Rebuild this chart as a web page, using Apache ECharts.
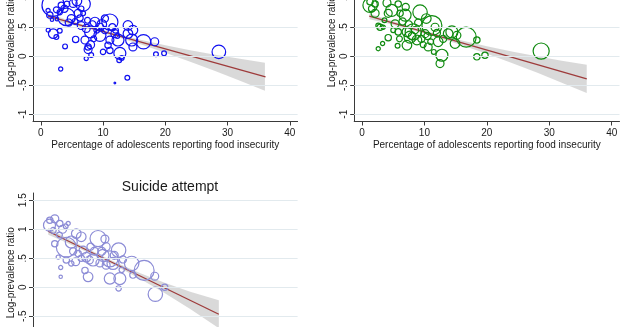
<!DOCTYPE html>
<html><head><meta charset="utf-8">
<script src="https://cdn.jsdelivr.net/npm/echarts@6/dist/echarts.min.js"></script>
<style>html,body{margin:0;padding:0;background:#fff}#c{width:624px;height:327px}</style>
</head><body><div id="c"></div>
<script>
// ---- shared axis text ----
const xTicks = [0, 10, 20, 30, 40];
const yTicks = [-1, -0.5, 0, 0.5, 1, 1.5];
const xTitle = 'Percentage of adolescents reporting food insecurity';
const yTitle = 'Log-prevalence ratio';
const panelCTitle = 'Suicide attempt';

// ---- panel A (top-left, blue) ----
const aX = [1.98,6.8,5.2,3.3,1.17,1.45,3.05,4.1,4.9,6.0,6.3,6.8,1.2,2.0,2.5,3.05,1.8,3.9,5.6,6.5,7.3,7.1,7.6,7.6,7.3,8.1,8.0,8.7,8.0,9.5,9.5,10.0,10.8,11.1,11.1,11.1,11.9,12.4,12.7,12.6,11.9,13.0,14.0,14.0,14.6,14.8,14.8,13.9,16.5,18.3,18.5,19.8,28.6,3.2,4.5,5.5,7.5,8.3,9.8,10.3,11.5,12.0,2.5,3.8,8.5,9.0,12.3,2.6,4.2,5.8,6.5,10.3];
const aY = [0.88,0.90,0.91,0.88,0.79,0.71,0.76,0.68,0.65,0.74,0.66,0.74,0.45,0.39,0.33,0.44,0.63,0.17,0.29,0.53,0.48,0.28,0.16,0.115,-0.04,0.02,0.20,0.59,0.42,0.36,0.50,0.075,0.19,0.59,0.28,0.10,0.39,0.28,0.05,-0.07,-0.46,-0.03,0.53,0.39,0.28,0.45,0.16,-0.37,0.25,0.25,0.035,0.05,0.075,-0.22,0.58,0.60,0.62,0.55,0.55,0.45,0.50,0.45,0.80,0.82,0.30,0.45,0.35,0.64,0.90,0.95,0.82,0.65];
const aW = [86,36,11,7,3,7,5,53,11,11,7,4,3,16,4,4,2,4,7,11,11,11,7,11,3,4,11,16,25,25,11,5,7,45,11,7,11,25,25,4,0.5,4,16,16,25,16,11,4,36,11,4,4,32,3,9,6,6,9,16,9,9,6,6,9,6,6,4,2,6,16,5,9];
const aFitX = [1.17, 36.1];
const aFitY = [0.69, -0.357];
const aCiX  = [1.2, 4, 8, 12, 16, 20, 24, 28, 32, 36];
const aCiHi = [0.739, 0.64, 0.51, 0.39, 0.285, 0.191, 0.105, 0.026, -0.044, -0.114];
const aCiLo = [0.639, 0.57, 0.46, 0.34, 0.205, 0.061, -0.095, -0.254, -0.424, -0.594];

// ---- panel B (top-right, green) ----
const bX = [1.28,1.55,1.3,2.1,2.6,2.9,3.4,2.6,3.3,4.2,4.2,4.76,5.3,5.8,5.7,6.9,6.1,7.2,7.2,7.7,8.2,9.3,8.8,10.1,11.2,11.7,10.6,11.5,12.2,12.8,12.5,13.8,14.4,14.9,15.2,16.7,18.4,18.4,19.7,28.7,2.1,4.0,5.8,7.5,8.0,8.5,9.5,10.5,9.0,6.5,6.0,11.0,3.6,7.0,13.0,9.8,12.0,10.3,5.0];
const bY = [0.94,0.82,0.88,0.74,0.53,0.50,0.50,0.13,0.22,0.32,0.74,0.79,0.56,0.42,0.18,0.71,0.74,0.42,0.19,0.33,0.42,0.76,0.28,0.39,0.53,0.50,0.16,0.075,0.25,0.017,-0.126,0.39,0.42,0.22,0.36,0.33,0.28,-0.01,0.017,0.09,0.90,0.92,0.90,0.55,0.35,0.45,0.30,0.35,0.58,0.60,0.30,0.25,0.62,0.85,0.30,0.20,0.40,0.65,0.45];
const bW = [7,7,36,11,4,7,3,3,3,7,11,25,11,7,4,25,7,16,16,25,45,36,16,11,69,11,11,4,16,25,11,16,25,16,11,69,7,7,7,45,7,11,7,9,9,9,9,9,9,9,6,6,4,9,9,6,9,16,4];
const bFitX = [1.17, 36.0];
const bFitY = [0.69, -0.39];
const bCiX  = [1.2, 4, 8, 12, 16, 20, 24, 28, 32, 36];
const bCiHi = [0.739, 0.637, 0.503, 0.379, 0.27, 0.171, 0.082, -0.002, -0.076, -0.145];
const bCiLo = [0.639, 0.567, 0.453, 0.329, 0.19, 0.041, -0.118, -0.282, -0.456, -0.635];

// ---- panel C (bottom-left, lavender) ----
const cX = [1.4,2.25,1.45,3.05,3.5,4.0,4.4,2.25,4.1,2.8,3.2,3.2,4.1,4.9,5.6,4.9,5.7,6.5,6.8,7.3,7.1,7.6,8.4,9.2,10.3,10.5,10.0,11.1,11.6,12.5,11.1,12.7,12.5,13.0,14.6,14.8,16.6,18.3,19.9,18.4,7.8,6.5,6.0,8.6,9.5,10.5,11.8,9.8,2.0,3.0,5.2,8.0,13.2];
const cY = [1.07,1.18,1.155,1.10,1.0,1.05,1.10,0.75,0.69,0.52,0.34,0.18,0.47,0.41,0.44,0.78,0.925,0.87,0.64,0.52,0.29,0.18,0.47,0.84,0.83,0.70,0.55,0.49,0.41,0.64,0.15,0.15,-0.02,0.30,0.41,0.21,0.29,0.19,0.0,-0.12,0.47,0.50,0.58,0.62,0.42,0.38,0.55,0.62,0.98,0.90,0.62,0.70,0.48];
const cW = [25,11,7,7,11,4,3,7,69,3,3,2,7,5,11,25,16,16,11,16,7,16,25,45,11,11,25,45,25,36,22,25,5,5,36,7,69,11,7,36,11,7,7,11,11,11,11,11,6,6,9,9,9];
const cFitX = [1.17, 28.6];
const cFitY = [0.966, -0.466];
const cCiX  = [1.2, 4, 8, 12, 16, 20, 24, 28.6];
const cCiHi = [1.024, 0.858, 0.639, 0.431, 0.242, 0.073, -0.076, -0.226];
const cCiLo = [0.904, 0.778, 0.579, 0.371, 0.142, -0.107, -0.376, -0.706];

// ---- build chart ----
const FONT = '"Liberation Sans", Arial, Helvetica, sans-serif';
const TXT = '#1a1a1a';
const GRIDC = '#e2eaee';
const fmtY = v => String(v).replace('0.', '.');

function grid(left, top, width, height) {
  return { left, top, width, height, containLabel: false, outerBoundsMode: 'none' };
}
function xAxis(i) {
  return {
    type: 'value', gridIndex: i, min: -1.25, max: 41.25,
    name: xTitle, nameLocation: 'middle', nameGap: 19,
    nameTextStyle: { fontSize: 10, color: TXT, fontFamily: FONT },
    axisLine: { show: true, onZero: false, lineStyle: { color: '#3a3a3a', width: 1 } },
    axisTick: { show: true, length: 4, customValues: xTicks, lineStyle: { color: '#3a3a3a' } },
    axisLabel: { customValues: xTicks, fontSize: 10, color: TXT, margin: 7, fontFamily: FONT },
    splitLine: { show: false }
  };
}
function yAxis(i) {
  return {
    type: 'value', gridIndex: i, min: -1.125, max: 1.625,
    name: yTitle, nameLocation: 'middle', nameGap: 17,
    nameTextStyle: { fontSize: 10, color: TXT, fontFamily: FONT },
    axisLine: { show: true, onZero: false, lineStyle: { color: '#3a3a3a', width: 1 } },
    axisTick: { show: true, length: 4, customValues: yTicks, lineStyle: { color: '#3a3a3a' } },
    axisLabel: { customValues: yTicks, fontSize: 10, color: TXT, margin: 5, rotate: 90, formatter: fmtY, fontFamily: FONT },
    splitLine: { show: false }
  };
}
function gridLines(i, xs, ys) {
  return {
    type: 'line', xAxisIndex: i, yAxisIndex: i, silent: true, z: 0,
    data: xs.map((x, k) => [x, ys[k]]), symbol: 'none',
    lineStyle: { opacity: 0, width: 0 },
    markLine: {
      silent: true, symbol: 'none', animation: false,
      label: { show: false },
      lineStyle: { color: GRIDC, type: 'solid', width: 1 },
      data: yTicks.map(v => ({ yAxis: v }))
    }
  };
}
function band(i, xs, lo, hi) {
  return {
    type: 'custom', xAxisIndex: i, yAxisIndex: i, silent: true, z: 1,
    data: xs.map((x, k) => [x, lo[k], hi[k]]),
    encode: { x: 0, y: [1, 2] },
    renderItem: function (params, api) {
      if (params.dataIndex !== 0) return null;
      const pts = [];
      for (let k = 0; k < xs.length; k++) pts.push(api.coord([xs[k], hi[k]]));
      for (let k = xs.length - 1; k >= 0; k--) pts.push(api.coord([xs[k], lo[k]]));
      return { type: 'polygon', shape: { points: pts }, style: { fill: '#d2d2d2', opacity: 0.85 } };
    }
  };
}
function fit(i, xs, ys) {
  return {
    type: 'line', xAxisIndex: i, yAxisIndex: i, silent: true, z: 3,
    data: xs.map((x, k) => [x, ys[k]]), symbol: 'none',
    lineStyle: { color: '#9e3b3b', width: 1.3 }
  };
}
function bubbles(i, xs, ys, ws, color) {
  return {
    type: 'scatter', xAxisIndex: i, yAxisIndex: i, silent: true, z: 4,
    data: xs.map((x, k) => [x, ys[k], ws[k]]),
    symbol: 'circle',
    symbolSize: v => 2.4 * Math.sqrt(v[2]),
    itemStyle: { color: 'rgba(0,0,0,0)', borderColor: color, borderWidth: 1.2, opacity: 1 }
  };
}

const chart = echarts.init(document.getElementById('c'), null, { renderer: 'canvas' });
chart.setOption({
  animation: false,
  backgroundColor: '#ffffff',
  textStyle: { fontFamily: FONT },
  title: [{
    text: panelCTitle, left: 165, top: 175, textAlign: 'center',
    textStyle: { fontSize: 14, fontWeight: 'normal', color: TXT, fontFamily: FONT }
  }],
  grid: [grid(33, -38, 264.6, 159.5), grid(354.2, -38, 265.3, 159.5), grid(33, 193, 264.6, 159.5)],
  xAxis: [xAxis(0), xAxis(1), xAxis(2)],
  yAxis: [yAxis(0), yAxis(1), yAxis(2)],
  series: [
    gridLines(0, aFitX, aFitY), band(0, aCiX, aCiLo, aCiHi), fit(0, aFitX, aFitY), bubbles(0, aX, aY, aW, '#1010f0'),
    gridLines(1, bFitX, bFitY), band(1, bCiX, bCiLo, bCiHi), fit(1, bFitX, bFitY), bubbles(1, bX, bY, bW, '#0f8a0f'),
    gridLines(2, cFitX, cFitY), band(2, cCiX, cCiLo, cCiHi), fit(2, cFitX, cFitY), bubbles(2, cX, cY, cW, '#8c8cd6')
  ]
});
</script>
</body></html>
